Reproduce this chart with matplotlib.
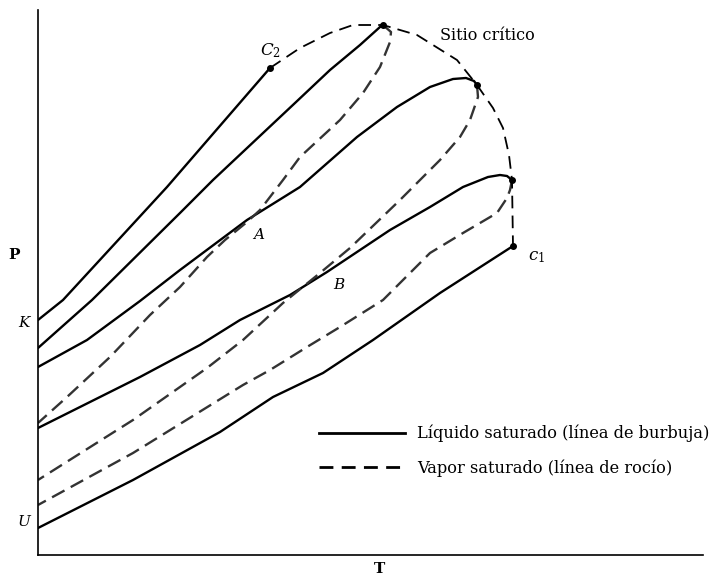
import matplotlib
matplotlib.use("Agg")
import matplotlib.pyplot as plt
from matplotlib.lines import Line2D

plt.rcParams['font.family'] = ['DejaVu Serif']
plt.rcParams['mathtext.fontset'] = 'dejavuserif'

# pure component 2 vapour pressure (K -> C2)
pure2_T = [0, 25, 129, 232]
pure2_P = [235, 255, 368, 487]

# envelope 1
env1_bub_T = [0, 54, 142, 175, 257, 292, 322, 342, 345]
env1_bub_P = [207, 255, 342, 375, 452, 485, 510, 528, 530]
env1_dew_T = [345, 353, 352, 342, 325, 302, 262, 245, 222, 209, 187, 169, 142, 112, 72, 29, 0]
env1_dew_P = [530, 523, 513, 488, 462, 435, 398, 375, 345, 333, 315, 298, 268, 240, 198, 158, 132]

# envelope 2
env2_bub_T = [0, 49, 102, 142, 209, 262, 319, 359, 392, 415, 428, 436, 439]
env2_bub_P = [188, 215, 254, 285, 335, 368, 418, 448, 468, 476, 477, 474, 470]
env2_dew_T = [439, 440, 432, 422, 402, 362, 312, 282, 245, 205, 169, 95, 0]
env2_dew_P = [470, 458, 435, 418, 395, 355, 307, 282, 252, 215, 187, 135, 75]

# envelope 3
env3_bub_T = [0, 102, 162, 202, 252, 289, 352, 392, 425, 450, 462, 469, 474]
env3_bub_P = [127, 178, 210, 235, 260, 283, 325, 348, 368, 378, 380, 379, 375]
env3_dew_T = [474, 472, 469, 459, 425, 392, 345, 302, 269, 232, 205, 95, 0]
env3_dew_P = [375, 365, 357, 342, 322, 302, 255, 228, 208, 185, 170, 102, 50]

# pure component 1 vapour pressure (U -> c1)
pure1_T = [0, 95, 182, 235, 285, 335, 402, 475]
pure1_P = [27, 75, 123, 158, 182, 215, 262, 309]

# critical locus (C2 -> c1)
crit_T = [232, 262, 292, 315, 345, 379, 419, 439, 455, 465, 471, 474, 475]
crit_P = [487, 507, 522, 530, 530, 520, 495, 470, 447, 427, 400, 375, 309]

# critical points
cp_T = [232, 345, 439, 474, 475]
cp_P = [487, 530, 470, 375, 309]

fig = plt.figure(figsize=(7.10, 5.77), dpi=100)
ax = fig.add_axes([38/710, 22/577, 665/710, 545/577])
ax.set_xlim(0, 665)
ax.set_ylim(0, 545)

lw = 1.7
dash = (6, 3)
for T, P in [(pure2_T, pure2_P), (env1_bub_T, env1_bub_P), (env2_bub_T, env2_bub_P),
             (env3_bub_T, env3_bub_P), (pure1_T, pure1_P)]:
    ax.plot(T, P, color='black', lw=lw, solid_joinstyle='round', solid_capstyle='round')
for T, P in [(env1_dew_T, env1_dew_P), (env2_dew_T, env2_dew_P), (env3_dew_T, env3_dew_P)]:
    ax.plot(T, P, color='#333333', lw=lw, dashes=dash)
ax.plot(crit_T, crit_P, color='black', lw=1.3, dashes=(7, 4))
ax.plot(cp_T, cp_P, 'o', color='black', ms=4)

# labels
ax.text(222, 500, r'$C_2$', fontsize=12)
ax.text(402, 515, 'Sitio crítico', fontsize=11.5)
ax.text(215, 316, 'A', fontsize=11, style='italic')
ax.text(295, 266, 'B', fontsize=11, style='italic')
ax.text(490, 295, r'$c_1$', fontsize=12)
ax.text(-8, 232, 'K', fontsize=11, style='italic', ha='right', va='center')
ax.text(-8, 33, 'U', fontsize=11, style='italic', ha='right', va='center')
fig.text(14/710, 1 - 255/577, 'P', fontsize=11, fontweight='bold', ha='center', va='center')
fig.text(380/710, 1 - 569/577, 'T', fontsize=11, fontweight='bold', ha='center', va='center')

handles = [Line2D([], [], color='black', lw=2),
           Line2D([], [], color='black', lw=2, dashes=(5, 3))]
ax.legend(handles, ['Líquido saturado (línea de burbuja)', 'Vapor saturado (línea de rocío)'],
          loc='upper left', bbox_to_anchor=(319/710, 1 - 425/577), bbox_transform=fig.transFigure,
          frameon=False, fontsize=11.7, handlelength=5.3, handletextpad=0.75,
          labelspacing=1.05, borderpad=0, borderaxespad=0)

for s in ['top', 'right']:
    ax.spines[s].set_visible(False)
ax.spines['left'].set_linewidth(1.2)
ax.spines['bottom'].set_linewidth(1.2)
ax.set_xticks([])
ax.set_yticks([])

fig.savefig('out.png', dpi=100)
